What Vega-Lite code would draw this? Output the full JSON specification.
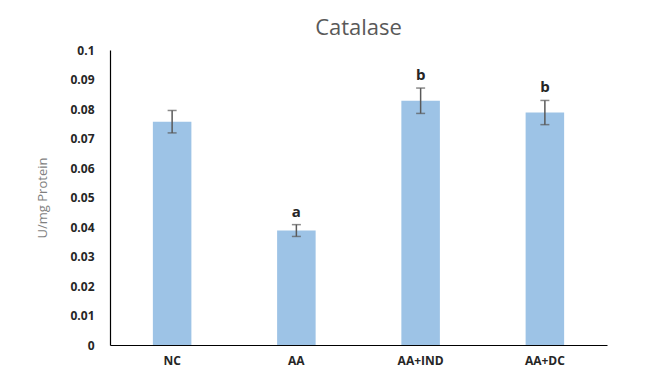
{
  "$schema": "https://vega.github.io/schema/vega-lite/v6.json",
  "width": 497,
  "height": 295,
  "autosize": {"type": "none"},
  "padding": {"left": 110, "top": 50, "right": 56, "bottom": 35},
  "background": "white",
  "title": {
    "text": "Catalase",
    "font": "Open Sans",
    "fontSize": 22,
    "fontWeight": "normal",
    "color": "#595959",
    "offset": 4
  },
  "data": {
    "values": [
      {"group": "NC", "mean": 0.0757, "err": 0.0038, "hi": 0.0795, "sig": ""},
      {"group": "AA", "mean": 0.0388, "err": 0.002, "hi": 0.0408, "sig": "a"},
      {"group": "AA+IND", "mean": 0.0828, "err": 0.0043, "hi": 0.0871, "sig": "b"},
      {"group": "AA+DC", "mean": 0.0788, "err": 0.0041, "hi": 0.0829, "sig": "b"}
    ]
  },
  "config": {
    "view": {"stroke": null},
    "axis": {"labelFont": "Open Sans", "titleFont": "Open Sans", "labelOverlap": false, "ticks": false, "grid": false, "domainColor": "#000000", "domainWidth": 1.2, "labelFontSize": 12, "labelFontWeight": "bold", "labelColor": "#262626"},
    "axisY": {"format": "~g", "values": [0, 0.01, 0.02, 0.03, 0.04, 0.05, 0.06, 0.07, 0.08, 0.09, 0.1], "labelPadding": 16, "titleFontSize": 13, "titleFontWeight": "normal", "titleColor": "#7f7f7f", "titlePadding": 20}
  },
  "encoding": {
    "x": {
      "field": "group",
      "type": "nominal",
      "sort": null,
      "scale": {"paddingInner": 0.69, "paddingOuter": 0.345},
      "axis": {
        "title": null,
        "labelAngle": 0,
        "labelPadding": 10
      }
    }
  },
  "layer": [
    {
      "mark": {"type": "bar", "color": "#9dc3e6"},
      "encoding": {
        "y": {
          "field": "mean",
          "type": "quantitative",
          "title": "U/mg Protein",
          "scale": {"domain": [0, 0.1]},
          "axis": {"values": [0, 0.01, 0.02, 0.03, 0.04, 0.05, 0.06, 0.07, 0.08, 0.09, 0.1], "labelOverlap": false, "format": "~g"}
        }
      }
    },
    {
      "mark": {"type": "errorbar", "ticks": {"size": 9, "color": "#595959", "thickness": 1.5}, "rule": {"color": "#595959", "strokeWidth": 1.5}},
      "encoding": {
        "y": {"field": "mean", "type": "quantitative", "title": "U/mg Protein", "axis": {"values": [0, 0.01, 0.02, 0.03, 0.04, 0.05, 0.06, 0.07, 0.08, 0.09, 0.1], "labelOverlap": false, "format": "~g"}},
        "yError": {"field": "err"}
      }
    },
    {
      "mark": {"type": "text", "font": "Open Sans", "fontSize": 15, "fontWeight": "bold", "color": "#262626", "baseline": "bottom", "dy": -5},
      "encoding": {
        "y": {"field": "hi", "type": "quantitative", "title": "U/mg Protein", "axis": {"values": [0, 0.01, 0.02, 0.03, 0.04, 0.05, 0.06, 0.07, 0.08, 0.09, 0.1], "labelOverlap": false, "format": "~g"}},
        "text": {"field": "sig"}
      }
    }
  ]
}
